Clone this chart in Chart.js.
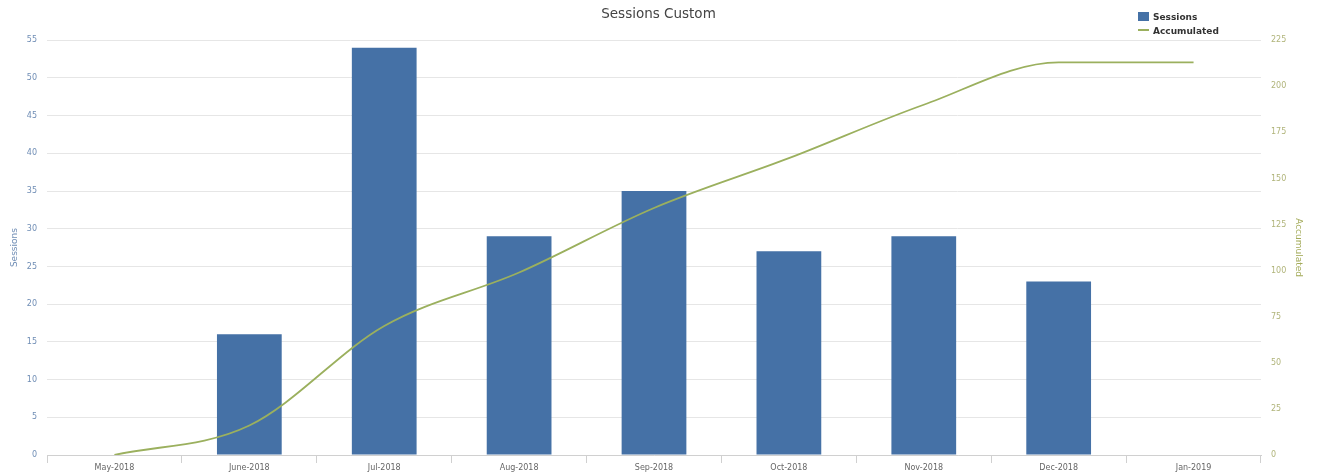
<!DOCTYPE html>
<html>
<head>
<meta charset="utf-8">
<script src="https://cdn.jsdelivr.net/npm/chart.js@4"></script>
<style>
  body { margin: 0; background: #fff; font-family: "DejaVu Sans", sans-serif; }
  #wrap { position: relative; width: 1317px; height: 475px; }
  #legenda { position: absolute; left: 1138px; top: 10px; font-size: 9px; font-weight: bold; color: #333; }
  #legenda div { height: 14px; line-height: 14px; white-space: nowrap; }
  #legenda span.caixa { display: inline-block; width: 11px; height: 9px; background: #4571a6; margin-right: 4px; vertical-align: -1px; }
  #legenda span.linha { display: inline-block; width: 11px; height: 2px; background: #9bb05e; margin-right: 4px; vertical-align: 3px; }
</style>
</head>
<body>
<div id="wrap">
  <canvas id="grafico_sessoes"></canvas>
  <div id="legenda">
    <div><span class="caixa"></span>Sessions</div>
    <div><span class="linha"></span>Accumulated</div>
  </div>
</div>
<script>
const meses = ['May-2018', 'June-2018', 'Jul-2018', 'Aug-2018', 'Sep-2018', 'Oct-2018', 'Nov-2018', 'Dec-2018', 'Jan-2019'];
const sessoes = [0, 16, 54, 29, 35, 27, 29, 23, 0];
const acumulado = [0, 16, 70, 99, 134, 161, 190, 213, 213];

const corBarra = '#4571a6';
const corLinha = '#9bb05e';

const config = {
    type: 'bar',
    data: {
        labels: meses,
        datasets: [
            {
                type: 'line',
                label: 'Accumulated',
                data: acumulado,
                yAxisID: 'y1',
                borderColor: corLinha,
                borderWidth: 1.8,
                pointRadius: 0,
                fill: false,
                cubicInterpolationMode: 'monotone',
                order: 0
            },
            {
                label: 'Sessions',
                data: sessoes,
                yAxisID: 'y',
                backgroundColor: corBarra,
                barPercentage: 0.96,
                categoryPercentage: 0.5,
                order: 1
            }
        ]
    },
    options: {
        responsive: true,
        maintainAspectRatio: false,
        animation: false,
        layout: { padding: { left: 0, right: 0, top: 0, bottom: 0 } },
        plugins: {
            legend: { display: false },
            tooltip: { enabled: false },
            title: {
                display: true,
                text: 'Sessions Custom',
                color: '#444',
                font: { family: 'DejaVu Sans', size: 13.5, weight: 'normal' },
                padding: { top: 6, bottom: 18 }
            }
        },
        scales: {
            x: {
                offset: true,
                grid: { display: true, drawOnChartArea: false, drawTicks: true, tickLength: 8, color: '#d0d0d0', offset: true },
                border: { display: true, color: '#d0d0d0' },
                ticks: { color: '#666', font: { family: 'DejaVu Sans', size: 8 }, padding: 0, maxRotation: 0, autoSkip: false },
                afterFit: function(s) { s.height = 20; }
            },
            y: {
                position: 'left',
                min: 0,
                max: 55,
                ticks: { stepSize: 5, color: '#6f8db5', font: { family: 'DejaVu Sans', size: 8 }, padding: 10 },
                grid: { color: '#e6e6e6', drawTicks: false },
                border: { display: false },
                title: { display: true, text: 'Sessions', color: '#6f8db5', font: { family: 'DejaVu Sans', size: 9 }, padding: { top: 9, bottom: 0 } },
                afterFit: function(s) { s.width = 47; }
            },
            y1: {
                position: 'right',
                min: 0,
                max: 225,
                ticks: { stepSize: 25, color: '#b0b47a', font: { family: 'DejaVu Sans', size: 8 }, padding: 2 },
                grid: { display: false, drawOnChartArea: false },
                border: { display: false },
                title: { display: true, text: 'Accumulated', color: '#a4ab5a', font: { family: 'DejaVu Sans', size: 9 }, padding: { top: 13, bottom: 0 } },
                afterFit: function(s) { s.width = 56; }
            }
        }
    }
};

const ctx = document.getElementById('grafico_sessoes').getContext('2d');
new Chart(ctx, config);
</script>
</body>
</html>
